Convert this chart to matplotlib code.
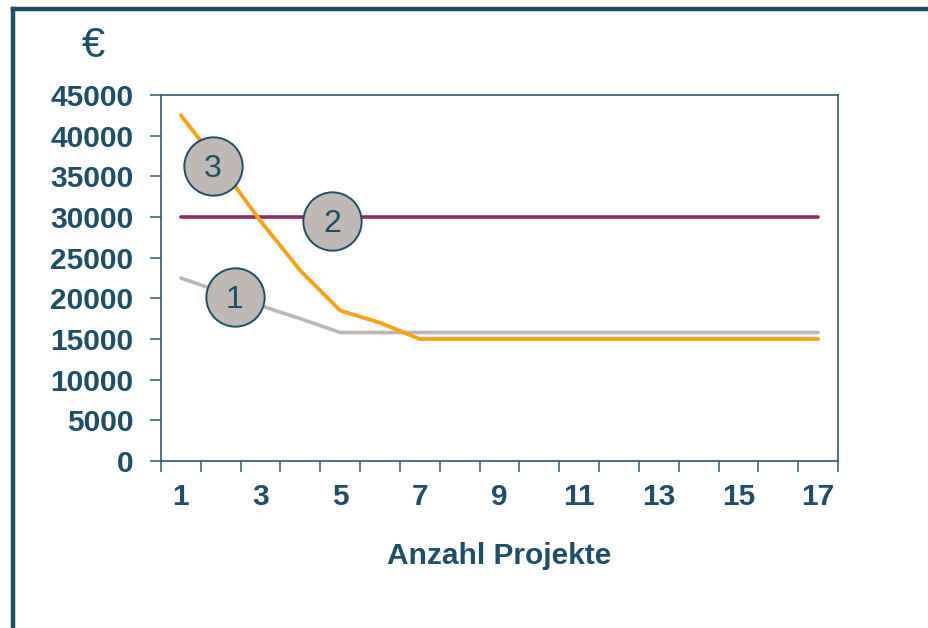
import matplotlib
matplotlib.use("Agg")
import matplotlib.pyplot as plt
from matplotlib.lines import Line2D

# Kosten je Variante in Abhängigkeit der Projektanzahl
projekte = list(range(1, 18))
kosten_1 = [22500, 20800, 19100, 17500, 15800, 15800, 15800, 15800, 15800,
            15800, 15800, 15800, 15800, 15800, 15800, 15800, 15800]
kosten_2 = [30000] * 17
kosten_3 = [42500, 36200, 29500, 23400, 18500, 17000, 15000, 15000, 15000,
            15000, 15000, 15000, 15000, 15000, 15000, 15000, 15000]

# Nummernkreise an den Kurven: (Beschriftung, x, y)
markierungen = [("3", 1.8, 36300), ("2", 4.8, 29500), ("1", 2.35, 20200)]

y_ticks = list(range(0, 45001, 5000))
x_labels = list(range(1, 18, 2))

dunkelblau = "#1F4E66"
achse = "#2E5A73"

plt.rcParams["font.family"] = ["Liberation Sans", "DejaVu Sans"]

fig = plt.figure(figsize=(9.29, 6.28), dpi=100)
ax = fig.add_axes([0.1733, 0.2659, 0.7288, 0.5828])

ax.plot(projekte, kosten_1, color="#BFB5B1", lw=2.6, solid_capstyle="round", zorder=2)
ax.plot(projekte, kosten_2, color="#8E2A5F", lw=2.6, solid_capstyle="round", zorder=2)
ax.plot(projekte, kosten_3, color="#F8A21A", lw=2.8, solid_capstyle="round", zorder=3)

for txt, x, y in markierungen:
    ax.plot(x, y, marker="o", markersize=42, markerfacecolor="#C0B8B5",
            markeredgecolor=dunkelblau, markeredgewidth=1.4, zorder=4)
    ax.text(x, y - 400, txt, ha="center", va="center", fontsize=23,
            color=dunkelblau, zorder=5)

ax.set_xlim(0.5, 17.5)
ax.set_ylim(0, 45000)

# Teilstriche zwischen den Kategorien, Beschriftung in der Mitte
ax.set_xticks([i + 0.5 for i in range(0, 18)])
ax.set_xticklabels([])
ax.set_xticks(x_labels, minor=True)
ax.set_xticklabels([str(v) for v in x_labels], minor=True)
ax.tick_params(axis="x", which="major", direction="out", length=8, width=1.1, color=achse)
ax.tick_params(axis="x", which="minor", length=0, pad=16, labelsize=21.5,
               labelcolor=dunkelblau)
for lbl in ax.get_xticklabels(minor=True):
    lbl.set_fontweight("bold")

ax.set_yticks(y_ticks)
ax.set_yticklabels([str(v) for v in y_ticks], fontweight="bold")
ax.tick_params(axis="y", direction="out", length=8, width=1.1, color=achse,
               pad=12, labelsize=21.5, labelcolor=dunkelblau)

for side in ax.spines:
    ax.spines[side].set_color(achse)
    ax.spines[side].set_linewidth(1.2)

ax.set_xlabel("Anzahl Projekte", fontsize=21.5, fontweight="bold",
              color=dunkelblau, labelpad=22)

fig.text(0.1, 0.927, "€", fontsize=30, color=dunkelblau, ha="center", va="center")

# Rahmen oben und links
fig.add_artist(Line2D([0.0138, 1.0], [0.986, 0.986], transform=fig.transFigure,
                      color=dunkelblau, lw=3.2))
fig.add_artist(Line2D([0.0138, 0.0138], [0.0, 0.986], transform=fig.transFigure,
                      color=dunkelblau, lw=3.2))

fig.savefig("out.png", dpi=100)
